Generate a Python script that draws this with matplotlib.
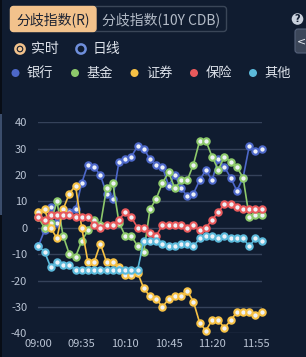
import matplotlib
matplotlib.use("Agg")
import matplotlib.pyplot as plt
from matplotlib.patches import FancyBboxPatch, Circle, Rectangle
import numpy as np
import pandas as pd

plt.rcParams['font.family'] = ['Noto Sans CJK SC', 'DejaVu Sans']
plt.rcParams['axes.unicode_minus'] = False

# Colours
BG = "#101c30"
GRID = "#35425a"
TICK = "#b9c3d3"
TEXT = "#dde2ea"
ORANGE = "#f2c28c"

# Data (5-minute points, 09:00 - 12:00)
times = pd.date_range("09:00", periods=37, freq="5min").strftime("%H:%M").tolist()
tick_labels = ["09:00", "09:35", "10:10", "10:45", "11:20", "11:55"]

series_names = ["银行", "基金", "证券", "保险", "其他"]
series_colors = ["#4d68c9", "#8dc96b", "#f6c145", "#e95a5c", "#5bb9da"]

bank = [-7, -1, 8, 2, 5, 6, 7, 17, 24, 23, 20, 13, 11, 25, 26, 27, 31, 30, 26, 24,
        23, 16, 20, 15, 12, 13, 18, 22, 18, 26, 23, 19, 14, 19, 31, 29, 30]
fund = [4, 0, 2, 10, -3, -10, -11, -5, -1, 3, 1, 15, 17, 2, -3, -3, -7, -9, 7, 11,
        17, 21, 15, 18, 18, 24, 33, 33, 27, 22, 27, 25, 23, 19, 4, 5, 5]
securities = [6, 7, 0, -4, 7, 13, 16, 0, -13, -13, -6, -13, -13, -15, -18, -18, -17, -23, -26, -27,
              -30, -27, -26, -26, -24, -28, -36, -39, -35, -35, -38, -35, -32, -32, -32, -33, -32]
insurance = [4, 3, 5, 5, 5, 5, 4, 4, 4, 1, 0, 1, 1, 3, 6, 4, 0, 0, -2, -3,
             1, 1, 1, 1, 0, 1, -1, 0, 3, 6, 9, 9, 8, 7, 7, 7, 7]
other = [-7, -9, -15, -13, -14, -14, -16, -16, -16, -16, -16, -16, -16, -16, -16, -16, -16, -5, -5, -5,
         -6, -7, -7, -6, -6, -7, -4, -3, -3, -4, -3, -4, -4, -4, -7, -4, -5]

y_ticks = [40, 30, 20, 10, 0, -10, -20, -30, -40]

W, H = 306, 357
fig = plt.figure(figsize=(W / 100, H / 100), dpi=100)
fig.patch.set_facecolor(BG)

# Main chart
ax = fig.add_axes([38.3 / W, 1 - 333.3 / H, 223.4 / W, 211.0 / H])
ax.set_facecolor(BG)
x = np.arange(len(times))
for vals, col in zip([bank, fund, securities, insurance, other], series_colors):
    ax.plot(x, vals, color=col, lw=1.2, marker='o', ms=4.6, mfc="#eef2f8",
            mec=col, mew=1.5, clip_on=False, zorder=3)

ax.set_xlim(0, len(times) - 1)
ax.set_ylim(-40, 40)
ax.set_yticks(y_ticks)
ax.set_yticklabels([str(v) for v in y_ticks])
ax.set_xticks([times.index(t) for t in tick_labels])
ax.set_xticklabels(tick_labels)
ax.tick_params(length=0, colors=TICK, labelsize=8)
ax.tick_params(axis='y', pad=8)
ax.tick_params(axis='x', pad=4)
ax.grid(axis='y', color=GRID, lw=1)
ax.set_axisbelow(True)
for s in ax.spines.values():
    s.set_visible(False)

# Overlay in pixel coords for the header widgets
ov = fig.add_axes([0, 0, 1, 1], zorder=-1)
ov.set_xlim(0, W)
ov.set_ylim(H, 0)
ov.axis('off')

# left edge strip
ov.add_patch(Rectangle((0, 0), 2, H, facecolor="#080d16", edgecolor='none'))
ov.add_patch(Rectangle((0, 114), 2, 101, facecolor="#3b4d6c", edgecolor='none'))

# tab buttons
ov.add_patch(FancyBboxPatch((10.5, 6.5), 216, 25, boxstyle="round,pad=0,rounding_size=3",
                            facecolor='none', edgecolor="#3a4658", lw=1))
ov.add_patch(FancyBboxPatch((10.5, 6.5), 85.5, 25, boxstyle="round,pad=0,rounding_size=3",
                            facecolor=ORANGE, edgecolor=ORANGE, lw=1))
ov.text(53, 19.5, "分歧指数(R)", ha='center', va='center', fontsize=10, color="#1c2333")
ov.text(161.5, 19.5, "分歧指数(10Y CDB)", ha='center', va='center', fontsize=10, color="#b3bbc7")

# help icon and side tab
ov.add_patch(Circle((297.5, 19), 5.8, facecolor="#c9d1dd", edgecolor='none'))
ov.text(297.5, 19.3, "?", ha='center', va='center', fontsize=7, fontweight='bold',
        color=BG, family='DejaVu Sans')
ov.add_patch(FancyBboxPatch((295, 29), 20, 24, boxstyle="round,pad=0,rounding_size=3",
                            facecolor="#3b4659", edgecolor="#55617a", lw=0.8))
ov.text(302, 41, "<", ha='center', va='center', fontsize=8, color="#e4e8ee", family='DejaVu Sans')

# radio buttons
ov.add_patch(Circle((20, 49), 4.6, facecolor='none', edgecolor=ORANGE, lw=1.8))
ov.add_patch(Circle((20, 49), 2.2, facecolor=ORANGE, edgecolor='none'))
ov.text(31, 49.5, "实时", ha='left', va='center', fontsize=10, color=TEXT)
ov.add_patch(Circle((81, 49), 4.6, facecolor='none', edgecolor="#6f8fdc", lw=1.8))
ov.text(92.5, 49.5, "日线", ha='left', va='center', fontsize=10, color=TEXT)

# legend row
legend_x = [15.5, 75, 134.5, 194, 253]
for lx, name, col in zip(legend_x, series_names, series_colors):
    ov.add_patch(Circle((lx, 73), 4.0, facecolor=col, edgecolor='none'))
    ov.text(lx + 11.5, 73.5, name, ha='left', va='center', fontsize=9.5, color=TEXT)

fig.savefig("out.png", dpi=100, facecolor=BG)
